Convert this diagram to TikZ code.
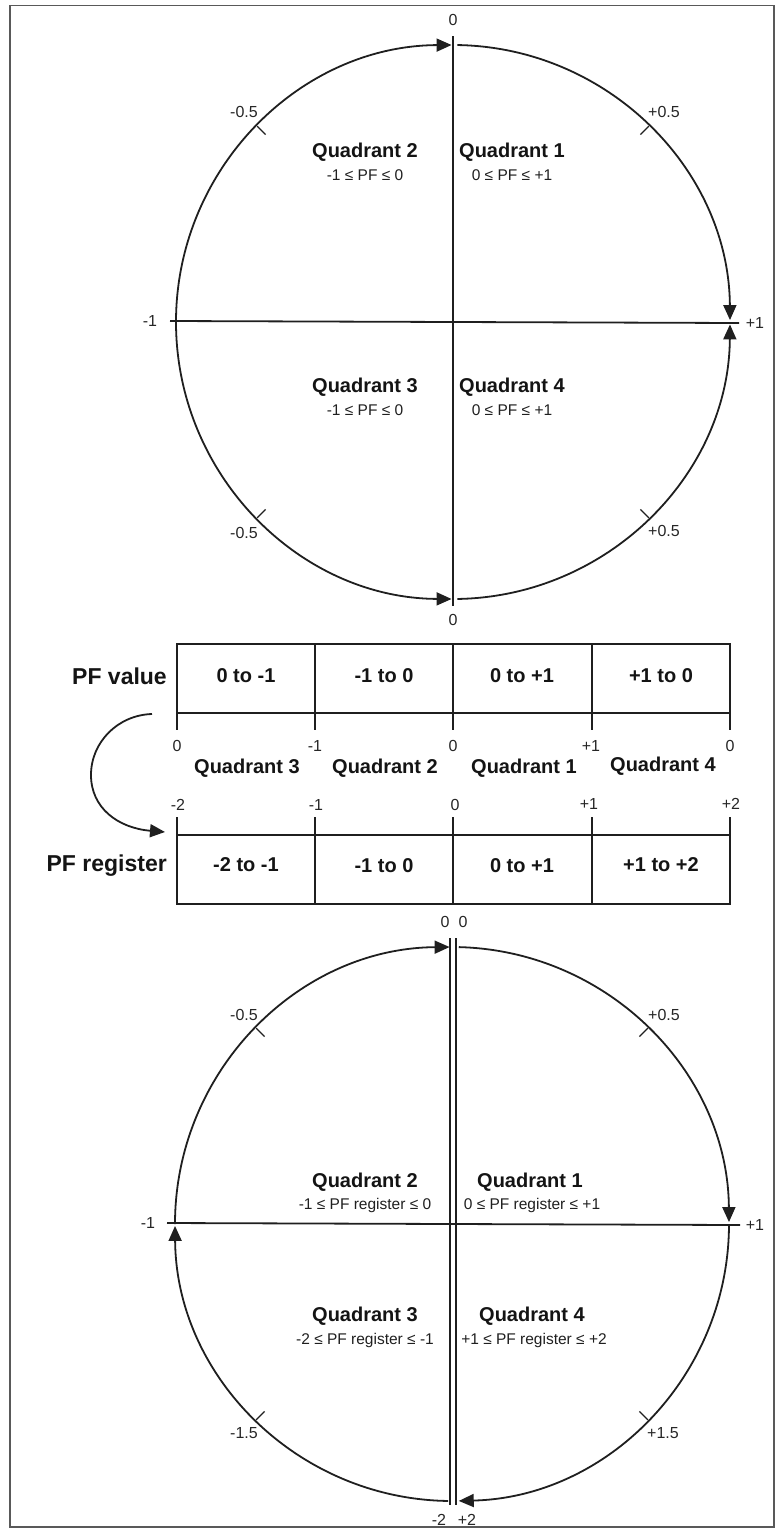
\documentclass[tikz,border=0pt]{standalone}
\usepackage{fontspec}
\setmainfont{Liberation Sans}
\usetikzlibrary{arrows.meta,calc}
\begin{document}
\begin{tikzpicture}[x=1pt,y=-1pt,
  ln/.style={line width=1.8pt, draw=black!88},
  tk/.style={line width=1.2pt, draw=black!88},
  arr/.style={ln, -{Triangle[length=15pt,width=13pt]}},
  num/.style={font=\fontsize{16}{18}\selectfont, text=black!85, inner sep=0pt},
  qt/.style={font=\fontsize{20}{24}\selectfont\bfseries, text=black!92, inner sep=0pt},
  qs/.style={font=\fontsize{15.5}{18}\selectfont, text=black!88, inner sep=0pt},
  cell/.style={font=\fontsize{20}{24}\selectfont\bfseries, text=black!92, inner sep=0pt},
  rowlab/.style={font=\fontsize{23}{26}\selectfont\bfseries, text=black!92, inner sep=0pt, anchor=east}
]
\useasboundingbox (0,0) rectangle (778,1531);
\draw[line width=1.5pt, draw=black!65] (10,5.5) rectangle (774,1527);

% ---------- top circle ----------
\coordinate (C1) at (453,322);
\draw[ln] (453,36) -- (453,606);
\draw[ln] (170,321) -- (739,323);
\draw[arr] (C1) ++(180:277) arc[start angle=180,end angle=269.7,radius=277];
\draw[arr] (C1) ++(270.9:277) arc[start angle=270.9,end angle=359.6,radius=277];
\draw[arr] (C1) ++(89.1:277) arc[start angle=89.1,end angle=0.5,radius=277];
\draw[arr] (C1) ++(180:277) arc[start angle=180,end angle=90.3,radius=277];
\foreach \a in {45,135,225,315}{\draw[tk] (C1) ++(\a:265) -- ++(\a:12);}
\node[num] (t0a) at (453,20) {0};
\node[num] (t0b) at (453,620) {0};
\node[num] (tm1) at (150,321) {-1};
\node[num] (tp1) at (755,323) {+1};
\node[num] (tm05a) at (244,112) {-0.5};
\node[num] (tp05a) at (664,112) {+0.5};
\node[num] (tm05b) at (244,533) {-0.5};
\node[num] (tp05b) at (664,531) {+0.5};
\node[qt] (q2a) at (365,152) {Quadrant 2};
\node[qs] (q2b) at (365,175) {-1 ≤ PF ≤ 0};
\node[qt] (q1a) at (512,152) {Quadrant 1};
\node[qs] (q1b) at (512,175) {0 ≤ PF ≤ +1};
\node[qt] (q3a) at (365,387) {Quadrant 3};
\node[qs] (q3b) at (365,410) {-1 ≤ PF ≤ 0};
\node[qt] (q4a) at (512,387) {Quadrant 4};
\node[qs] (q4b) at (512,410) {0 ≤ PF ≤ +1};

% ---------- PF value table ----------
\draw[ln] (177,644) rectangle (730,713);
\foreach \x in {177,315,453,592,730}{\draw[ln] (\x,644) -- (\x,730);}
\node[rowlab] (pfv) at (167,676) {PF value};
\node[cell] (v1) at (246,676) {0 to -1};
\node[cell] (v2) at (384,676) {-1 to 0};
\node[cell] (v3) at (522,676) {0 to +1};
\node[cell] (v4) at (661,676) {+1 to 0};
\node[num] at (177,746) {0};
\node[num] at (315,746) {-1};
\node[num] at (453,746) {0};
\node[num] at (591,746) {+1};
\node[num] at (730,746) {0};
\node[qt] at (247,768) {Quadrant 3};
\node[qt] at (385,768) {Quadrant 2};
\node[qt] at (524,768) {Quadrant 1};
\node[qt] at (663,766) {Quadrant 4};

% ---------- PF register table ----------
\draw[ln] (177,835) rectangle (730,904);
\foreach \x in {177,315,453,592,730}{\draw[ln] (\x,817) -- (\x,904);}
\node[num] at (178,805) {-2};
\node[num] at (316,805) {-1};
\node[num] at (455,805) {0};
\node[num] at (589,804) {+1};
\node[num] at (731,804) {+2};
\node[rowlab] (pfr) at (167,866) {PF register};
\node[cell] (r1) at (246,865) {-2 to -1};
\node[cell] (r2) at (384,866) {-1 to 0};
\node[cell] (r3) at (522,866) {0 to +1};
\node[cell] (r4) at (661,865) {+1 to +2};

% curved arrow
\coordinate (ca) at (152,714);
\coordinate (cb) at (165,832);
\draw[arr] (ca) .. controls (118,715) and (91,742) .. (91,775)
  .. controls (91,808) and (118,828) .. (cb);

% ---------- bottom circle ----------
\coordinate (C2) at (452,1224);
\draw[ln] (450,938) -- (450,1505);
\draw[ln] (456,938) -- (456,1505);
\draw[ln] (167,1223) -- (740,1225);
\draw[arr] (C2) ++(180:277) arc[start angle=180,end angle=269.5,radius=277];
\draw[arr] (C2) ++(271.4:277) arc[start angle=271.4,end angle=359.6,radius=277];
\draw[arr] (C2) ++(0.4:277) arc[start angle=0.4,end angle=88.6,radius=277];
\draw[arr] (C2) ++(90.8:277) arc[start angle=90.8,end angle=179.6,radius=277];
\foreach \a in {45,135,225,315}{\draw[tk] (C2) ++(\a:265) -- ++(\a:12);}
\node[num] at (445,922) {0};
\node[num] at (463,922) {0};
\node[num] at (148,1223) {-1};
\node[num] at (755,1225) {+1};
\node[num] at (439,1520) {-2};
\node[num] at (467,1520) {+2};
\node[num] at (244,1015) {-0.5};
\node[num] at (664,1015) {+0.5};
\node[num] at (244,1433) {-1.5};
\node[num] at (663,1433) {+1.5};
\node[qt] at (365,1182) {Quadrant 2};
\node[qs] at (365,1205) {-1 ≤ PF register ≤ 0};
\node[qt] at (530,1182) {Quadrant 1};
\node[qs] at (532,1205) {0 ≤ PF register ≤ +1};
\node[qt] at (365,1316) {Quadrant 3};
\node[qs] at (365,1340) {-2 ≤ PF register ≤ -1};
\node[qt] at (532,1316) {Quadrant 4};
\node[qs] at (534,1340) {+1 ≤ PF register ≤ +2};
\end{tikzpicture}
\end{document}
